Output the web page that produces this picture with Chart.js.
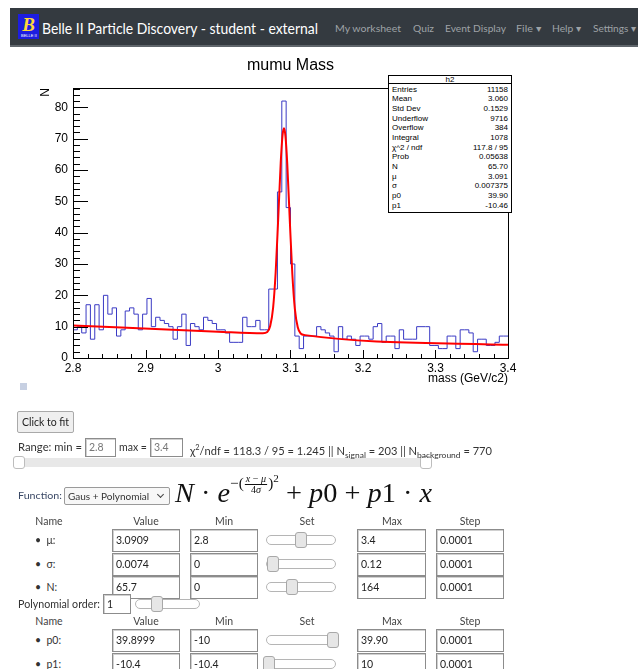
<!DOCTYPE html>
<html>
<head>
<meta charset="utf-8">
<title>mumu Mass</title>
<script src="https://cdn.jsdelivr.net/npm/chart.js@4.4.1/dist/chart.umd.min.js"></script>
<style>
  body { margin: 0; width: 638px; height: 669px; overflow: hidden; position: relative; background: #fff;
         font-family: Lato, "Noto Sans", sans-serif; font-size: 11px; color: #333; }
  .a { position: absolute; white-space: nowrap; }
  .fit { transform-origin: 0 50%; }
  #nav { left: 10px; top: 8px; width: 628px; height: 37px; background: #343a40; border-bottom: 2px solid #5f656b; }
  #logo { left: 18px; top: 14px; width: 21px; height: 25px; background: #1d1de0; color: #ffd83a;
          font: italic bold 19px "Liberation Serif", serif; text-align: center; line-height: 22px; }
  #logo small { position: absolute; left: 3px; bottom: 1px; font: 4px "Liberation Sans"; color: #fff; font-style: normal; }
  .brand { left: 42px; top: 18px; line-height: 20px; font-size: 15px; color: #fff; }
  .nav { top: 20px; line-height: 16px; font-size: 10px; color: #9fa3a7; }
  #chartBox { left: 0; top: 50px; width: 540px; height: 345px; }
  #stats { left: 388px; top: 75px; width: 122px; height: 136px; border: 1px solid #000; background: #fff;
           font: 8px "Liberation Sans", Arial, sans-serif; color: #000; }
  #stats .hd { position: absolute; left: 0; right: 0; top: 0; height: 7px; border-bottom: 1px solid #000;
               text-align: center; line-height: 7px; }
  #stats .row { position: absolute; left: 3px; right: 3px; height: 9px; line-height: 9px; }
  #stats .row span:last-child { float: right; }
  #marker { left: 20px; top: 383px; width: 7px; height: 7px; background: #c7d0e2; }
  .btn { left: 17px; top: 411px; width: 55px; height: 20px; background: #efefef; border: 1px solid #a9a9a9;
         border-radius: 2px; text-align: center; line-height: 20px; font-size: 10.5px; color: #222; }
  .txt { line-height: 14px; font-size: 10.5px; color: #333; z-index: 2; }
  .inp { position: absolute; box-sizing: border-box; background: #fff; border: 1px solid #8c8c8c;
         box-shadow: inset 1px 1px 0 #d0d0d0; font-size: 10.5px; color: #222; padding-left: 3px; }
  .track { position: absolute; box-sizing: border-box; height: 10px; border: 1px solid #b5b5b5; border-radius: 5px; background: #fff; }
  .knob { position: absolute; box-sizing: border-box; width: 12px; height: 16px; background: #e6e6e6;
          border: 1px solid #a8a8a8; border-radius: 3px; }
  #range { left: 13px; top: 458px; width: 419px; height: 9px; background: #e8e8e8; border-radius: 2px; z-index: 1; }
  .rknob { position: absolute; top: -2px; width: 12px; height: 13px; box-sizing: border-box; background: #fff;
           border: 1px solid #bdbdbd; border-radius: 3px; }
  .sel { left: 64px; top: 487px; width: 106px; height: 18px; box-sizing: border-box; border: 1px solid #9a9a9a;
         border-radius: 2px; background: #f7f7f7; font-size: 10px; line-height: 16px; padding-left: 3px; color: #333; }
  .sel i { position: absolute; right: 6px; top: 4px; width: 4px; height: 4px; border-right: 1px solid #444;
           border-bottom: 1px solid #444; transform: rotate(45deg); }
  #formula { left: 175px; top: 476px; font: 28px "Liberation Serif", serif; color: #111; line-height: 32px; }
  #formula i { font-style: italic; }
  #formula .ex { font-size: 15px; position: relative; top: -14px; }
  #formula .frac { display: inline-block; vertical-align: middle; text-align: center; font-size: 10px; line-height: 10px; margin: 0 1px; }
  #formula .frac .num { display: block; border-bottom: 1px solid #111; padding: 0 1px; }
  #formula .ex sup { font-size: 11px; }
  .hdr { line-height: 14px; font-size: 10.5px; color: #444; text-align: center; }
</style>
</head>
<body>
<div id="nav" class="a"></div>
<div id="logo" class="a">B<small>BELLE II</small></div>
<div class="a brand fit" data-w="276">Belle II Particle Discovery - student - external</div>
<div class="a nav fit" data-w="66" style="left:335px">My worksheet</div>
<div class="a nav fit" data-w="21" style="left:413px">Quiz</div>
<div class="a nav fit" data-w="61" style="left:445px">Event Display</div>
<div class="a nav fit" data-w="25" style="left:516px">File ▾</div>
<div class="a nav fit" data-w="29" style="left:552px">Help ▾</div>
<div class="a nav fit" data-w="43" style="left:593px">Settings ▾</div>

<div id="chartBox" class="a"><canvas class="massChart" width="540" height="345"></canvas></div>
<div id="stats" class="a"></div>
<div id="marker" class="a"></div>

<div class="a btn">Click to fit</div>
<div class="a txt fit" data-w="64" style="left:18px;top:440px">Range: min =</div>
<div class="inp" style="left:85px;top:438px;width:31px;height:19px;line-height:17px;color:#777">2.8</div>
<div class="a txt fit" data-w="28" style="left:119px;top:440px">max =</div>
<div class="inp" style="left:150px;top:438px;width:33px;height:19px;line-height:17px;color:#777">3.4</div>
<div class="a txt fit" data-w="302" style="left:190px;top:440px">χ<sup style="font-size:7px">2</sup>/ndf = 118.3 / 95 = 1.245 || N<sub style="font-size:8px">signal</sub> = 203 || N<sub style="font-size:8px">background</sub> = 770</div>
<div id="range" class="a"><div class="rknob" style="left:0"></div><div class="rknob" style="left:407px"></div></div>

<div class="a txt fit" data-w="44" style="left:18px;top:489px;font-size:9.5px;color:#3b4966">Function:</div>
<div class="a sel">Gaus + Polynomial<i></i></div>
<div id="formula" class="a fit" data-w="257"><i>N</i> · <i>e</i><span class="ex">−(<span class="frac"><span class="num"><i>x</i> − <i>μ</i></span><span>4<i>σ</i></span></span>)<sup>2</sup></span> + <i>p</i>0 + <i>p</i>1 · <i>x</i></div>

<div id="params"></div>

<script>
// ---- histogram data ----
const binLow = 2.8;
const binHigh = 3.4;
const counts = [
  9, 10, 8, 17, 6, 17, 9, 20, 14, 16,
  7, 9, 15, 16, 14, 9, 14, 19, 10, 13,
  12, 11, 10, 6, 10, 14, 4, 11, 10, 9,
  13, 12, 11, 9, 9, 8, 5, 5, 5, 13,
  10, 10, 12, 9, 9, 22, 22, 53, 82, 48,
  30, 7, 3, 7, 7, 7, 10, 9, 8, 7,
  2, 10, 6, 7, 6, 4, 7, 7, 6, 10,
  11, 5, 7, 7, 3, 9, 6, 6, 6, 10,
  10, 10, 4, 4, 3, 3, 7, 7, 3, 9,
  9, 8, 2, 6, 6, 4, 4, 5, 7, 7,
];

// fitted curve, sampled where it bends
const fitX = [2.8, 3.0, 3.062, 3.068, 3.072, 3.076, 3.0795, 3.083, 3.0865, 3.089, 3.091,
              3.093, 3.0955, 3.099, 3.1025, 3.106, 3.11, 3.114, 3.12, 3.4];
const fitY = [10.4, 8.4, 7.9, 8.3, 10.2, 16.0, 27.2, 44.2, 62.3, 71.0, 73.3,
              70.9, 62.1, 44.0, 26.9, 15.7, 9.8, 7.8, 7.3, 4.2];

const xTicks = [2.8, 2.9, 3.0, 3.1, 3.2, 3.3, 3.4];
const yTicks = [0, 10, 20, 30, 40, 50, 60, 70, 80];
const yMax = 86.1;

const statNames = ["Entries", "Mean", "Std Dev", "Underflow", "Overflow", "Integral",
                   "χ^2 / ndf", "Prob", "N", "μ", "σ", "p0", "p1"];
const statValues = ["11158", "3.060", "0.1529", "9716", "384", "1078",
                    "117.8 / 95", "0.05638", "65.70", "3.091", "0.007375", "39.90", "-10.46"];

// ---- stats box ----
const stats = document.getElementById("stats");
stats.innerHTML = '<div class="hd">h2</div>' + statNames
  .map((n, i) => `<div class="row" style="top:${8.5 + i * 9.67}px"><span>${n}</span><span>${statValues[i]}</span></div>`)
  .join("");

// ---- chart ----
const binWidth = (binHigh - binLow) / counts.length;
const histPoints = counts.map((c, i) => ({ x: binLow + i * binWidth, y: c }));
histPoints.push({ x: binHigh, y: counts[counts.length - 1] });

// ROOT-like frame: box, inner ticks, axis titles
const rootFrame = {
  id: "rootFrame",
  afterDatasetsDraw(chart) {
    const { ctx, chartArea: a, scales: { x, y } } = chart;
    ctx.save();
    ctx.strokeStyle = "#000";
    ctx.lineWidth = 1;
    ctx.strokeRect(Math.round(a.left) + 0.5, Math.round(a.top) + 0.5, Math.round(a.width), Math.round(a.height));

    ctx.beginPath();
    for (let v = 0; v <= yMax; v += 2) {
      const py = Math.round(y.getPixelForValue(v)) + 0.5;
      const len = v % 10 === 0 ? 15 : 7;
      ctx.moveTo(a.left, py);
      ctx.lineTo(a.left + len, py);
    }
    for (let k = 0; k <= 30; k++) {
      const px = Math.round(x.getPixelForValue(binLow + k * 0.02)) + 0.5;
      const len = k % 5 === 0 ? 8 : 4;
      ctx.moveTo(px, a.bottom);
      ctx.lineTo(px, a.bottom - len);
    }
    ctx.stroke();

    ctx.fillStyle = "#000";
    ctx.font = "12px 'Liberation Sans'";
    ctx.textAlign = "right";
    ctx.textBaseline = "middle";
    ctx.fillText("mass (GeV/c2)", a.right, a.bottom + 21);

    ctx.translate(49, a.top);
    ctx.rotate(-Math.PI / 2);
    ctx.textBaseline = "alphabetic";
    ctx.fillText("N", 0, 0);
    ctx.restore();
  },
};

Chart.defaults.font.family = "'Liberation Sans', Arial, sans-serif";
Chart.defaults.color = "#000";

const ctx = document.querySelector(".massChart").getContext("2d");
const chart = new Chart(ctx, {
  type: "line",
  data: {
    datasets: [
      {
        label: "fit",
        data: fitX.map((x, i) => ({ x, y: fitY[i] })),
        borderColor: "#ff0000",
        borderWidth: 2,
        pointRadius: 0,
        fill: false,
        cubicInterpolationMode: "monotone",
        order: 0,
      },
      {
        label: "h2",
        data: histPoints,
        borderColor: "#3a3ac4",
        borderWidth: 1,
        pointRadius: 0,
        fill: false,
        stepped: "before",
        order: 1,
      },
    ],
  },
  options: {
    responsive: false,
    animation: false,
    events: [],
    layout: { padding: { top: 0, right: 32, left: 0, bottom: 0 } },
    scales: {
      x: {
        type: "linear",
        min: binLow,
        max: binHigh,
        afterBuildTicks: (s) => { s.ticks = xTicks.map((v) => ({ value: v })); },
        afterFit: (s) => { s.height = 37; },
        ticks: { callback: (v) => String(+v.toFixed(1)), font: { size: 12 }, padding: 3, maxRotation: 0, autoSkip: false },
        grid: { display: false, drawTicks: false },
        border: { display: false },
      },
      y: {
        min: 0,
        max: yMax,
        afterBuildTicks: (s) => { s.ticks = yTicks.map((v) => ({ value: v })); },
        afterFit: (s) => { s.width = 73; },
        ticks: { font: { size: 12 }, padding: 5 },
        grid: { display: false, drawTicks: false },
        border: { display: false },
      },
    },
    plugins: {
      legend: { display: false },
      tooltip: { enabled: false },
      title: {
        display: true,
        text: "mumu Mass",
        fullSize: false,
        color: "#000",
        font: { size: 16, weight: "normal" },
        padding: { top: 6, bottom: 13 },
      },
    },
  },
  plugins: [rootFrame],
});

// ---- fit parameter table ----
const paramBlocks = [
  { top: 521, rows: [
    { name: "μ", value: "3.0909", min: "2.8", max: "3.4", step: "0.0001", knob: 0.5 },
    { name: "σ", value: "0.0074", min: "0", max: "0.12", step: "0.0001", knob: 0.02 },
    { name: "N", value: "65.7", min: "0", max: "164", step: "0.0001", knob: 0.34 },
  ] },
  { top: 621, rows: [
    { name: "p0", value: "39.8999", min: "-10", max: "39.90", step: "0.0001", knob: 1.05 },
    { name: "p1", value: "-10.4", min: "-10.4", max: "10", step: "0.0001", knob: -0.05 },
  ] },
];
const heads = [["Name", 49], ["Value", 146], ["Min", 224], ["Set", 307], ["Max", 392], ["Step", 470]];

const params = document.getElementById("params");
let html = "";
function knob(left, width, top, frac) {
  return `<div class="track" style="left:${left}px;top:${top - 5}px;width:${width}px"></div>` +
         `<div class="knob" style="left:${left + frac * (width - 12)}px;top:${top - 8}px"></div>`;
}
paramBlocks.forEach((block) => {
  heads.forEach(([h, cx]) => {
    html += `<div class="a hdr" style="left:${cx - 30}px;width:60px;top:${block.top - 7}px">${h}</div>`;
  });
  block.rows.forEach((r, i) => {
    const cy = block.top + 19 + i * 23.5;
    html += `<div class="a txt" style="left:35px;top:${cy - 7}px">•&nbsp; ${r.name}:</div>`;
    [[112, 68, r.value], [190, 68, r.min], [357, 69, r.max], [436, 68, r.step]].forEach(([l, w, v]) => {
      html += `<div class="inp" style="left:${l}px;top:${cy - 11}px;width:${w}px;height:23px;line-height:21px">${v}</div>`;
    });
    html += knob(266, 70, cy, r.knob);
  });
});
html += `<div class="a txt fit" data-w="82" style="left:18px;top:597px">Polynomial order:</div>`;
html += `<div class="inp" style="left:103px;top:594px;width:28px;height:20px;line-height:18px">1</div>`;
html += knob(135, 65, 604, 0.3);
params.innerHTML = html;

// squeeze text to the widths measured on the reference
document.querySelectorAll(".fit").forEach((el) => {
  const w = +el.dataset.w;
  const actual = el.getBoundingClientRect().width;
  if (actual > 0) el.style.transform = `scaleX(${w / actual})`;
});
</script>
</body>
</html>
